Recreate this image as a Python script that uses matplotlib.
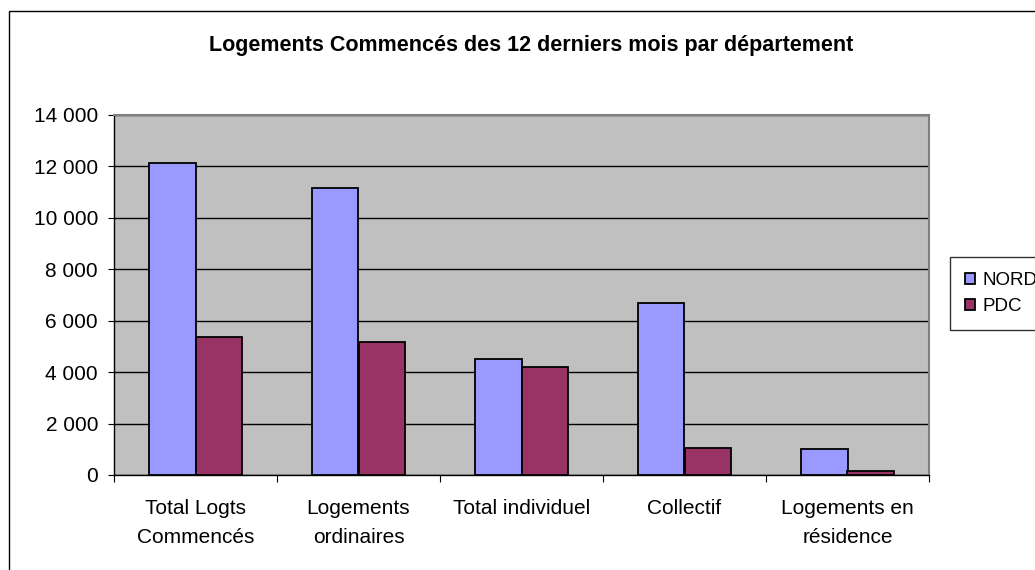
import matplotlib
matplotlib.use("Agg")
import matplotlib.pyplot as plt
import matplotlib.patches as mpatches
from matplotlib.ticker import FuncFormatter
import numpy as np

plt.rcParams['font.family'] = ['Liberation Sans', 'DejaVu Sans']

categories = ["Total Logts\nCommencés", "Logements\nordinaires", "Total individuel",
              "Collectif", "Logements en\nrésidence"]
nord = [12120, 11170, 4500, 6680, 1000]
pdc = [5350, 5160, 4190, 1060, 150]
series_names = ["NORD", "PDC"]
title = "Logements Commencés des 12 derniers mois par département"

W, H = 1035, 570
fig = plt.figure(figsize=(W / 100, H / 100), dpi=100)
ax = fig.add_axes([114 / W, 1 - 475 / H, (929 - 114) / W, (475 - 115) / H])
ax.set_facecolor('#C0C0C0')

x = np.arange(len(categories))
bw = 0.283
ax.bar(x - bw / 2, nord, bw, color='#9999FF', edgecolor='black', linewidth=1.3, zorder=3, label=series_names[0])
ax.bar(x + bw / 2, pdc, bw, color='#993366', edgecolor='black', linewidth=1.3, zorder=3, label=series_names[1])

ax.set_xlim(-0.5, len(categories) - 0.5)
ax.set_ylim(0, 14000)
ax.set_yticks(np.arange(0, 14001, 2000))
ax.yaxis.set_major_formatter(FuncFormatter(lambda v, p: f"{int(v):,}".replace(",", " ")))
ax.grid(axis='y', color='black', linewidth=1.0, zorder=1)
ax.set_axisbelow(True)

ax.set_xticks(np.arange(-0.5, len(categories), 1.0), minor=False)
ax.set_xticklabels([])
ax.set_xticks(x, minor=True)
ax.set_xticklabels(categories, minor=True, fontsize=15, linespacing=1.7)
ax.tick_params(axis='x', which='major', length=5, direction='out', color='black')
ax.tick_params(axis='x', which='minor', length=0, pad=17)
ax.tick_params(axis='y', length=4.5, labelsize=15, pad=7, color='black')

for s in ['top', 'right']:
    ax.spines[s].set_color('#808080')
    ax.spines[s].set_linewidth(1.5)
for s in ['left', 'bottom']:
    ax.spines[s].set_color('black')
    ax.spines[s].set_linewidth(1.0)

fig.text(531 / W, 1 - 45 / H, title, ha='center', va='center', fontsize=15.5,
         fontweight='bold')

# outer chart border (extends beyond the image on right/bottom)
fig.patches.append(mpatches.Rectangle((9 / W, -0.1), 1.2, 1 - 11 / H + 0.1,
                                      transform=fig.transFigure, fill=False,
                                      edgecolor='black', linewidth=1.0, clip_on=False))

leg = ax.legend(loc='upper left', bbox_to_anchor=(950 / W, 1 - 257 / H),
                bbox_transform=fig.transFigure, fontsize=13.5, frameon=True,
                fancybox=False, edgecolor='black', handlelength=0.55, handleheight=0.55,
                handletextpad=0.4, borderpad=0.8, labelspacing=0.5, borderaxespad=0)
leg.get_frame().set_linewidth(1.0)

fig.savefig("out.png", dpi=100)
